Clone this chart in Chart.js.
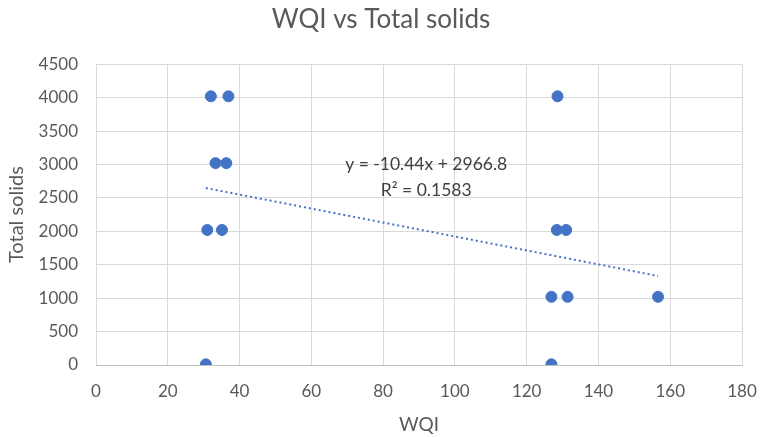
<!DOCTYPE html>
<html>
<head>
<meta charset="utf-8">
<script src="https://cdn.jsdelivr.net/npm/chart.js@4"></script>
<style>
  html, body { margin: 0; padding: 0; background: #fff; }
  #wrap { width: 762px; height: 437px; }
</style>
</head>
<body>
<div id="wrap"><canvas id="chart" width="762" height="437"></canvas></div>
<script>
// WQI (x) and total solids (y)
const wqi = [32.0, 36.9, 33.3, 36.3, 31.0, 35.1, 30.6, 128.6, 128.4, 131.0, 126.9, 131.4, 156.6, 126.9];
const totalSolids = [4020, 4020, 3020, 3020, 2020, 2020, 10, 4020, 2020, 2020, 1020, 1020, 1020, 10];

// linear trendline as printed on the chart
const slope = -10.44;
const intercept = 2966.8;
const equationText = 'y = -10.44x + 2966.8';
const r2Text = 'R² = 0.1583';

const xTicks = [0, 20, 40, 60, 80, 100, 120, 140, 160, 180];
const yTicks = [0, 500, 1000, 1500, 2000, 2500, 3000, 3500, 4000, 4500];

const blue = '#4472C4';
const gray = '#595959';
const fontFamily = 'Lato, "Open Sans", sans-serif';

const points = wqi.map((x, i) => ({x: x, y: totalSolids[i]}));
const minX = Math.min(...wqi);
const maxX = Math.max(...wqi);
const trend = [minX, maxX].map(x => ({x: x, y: slope * x + intercept}));

const equationLabel = {
    id: 'equationLabel',
    afterDatasetsDraw(chart) {
        const xs = chart.scales.x, ys = chart.scales.y;
        const ctx = chart.ctx;
        ctx.save();
        ctx.fillStyle = '#404040';
        ctx.font = '17.5px ' + fontFamily;
        ctx.textAlign = 'center';
        ctx.textBaseline = 'middle';
        ctx.fillText(equationText, xs.getPixelForValue(92), ys.getPixelForValue(3005));
        ctx.fillText(r2Text, xs.getPixelForValue(92), ys.getPixelForValue(2616));
        ctx.restore();
    }
};

const ctx = document.getElementById('chart').getContext('2d');
const chart = new Chart(ctx, {
    type: 'scatter',
    data: {
        datasets: [{
            label: 'Total solids',
            data: points,
            backgroundColor: blue,
            borderColor: blue,
            pointRadius: 5.5,
            pointHoverRadius: 5.5
        }, {
            type: 'line',
            label: 'Linear (Total solids)',
            data: trend,
            borderColor: blue,
            borderWidth: 2,
            borderDash: [2, 3],
            pointRadius: 0,
            fill: false
        }]
    },
    options: {
        responsive: false,
        animation: false,
        layout: { padding: { left: 0, right: 0, top: 0, bottom: 0 } },
        plugins: {
            legend: { display: false },
            tooltip: { enabled: false },
            title: {
                display: true,
                text: 'WQI vs Total solids',
                color: gray,
                font: { family: fontFamily, size: 26, weight: 'normal' },
                padding: { top: 4, bottom: 29 }
            }
        },
        scales: {
            x: {
                type: 'linear',
                min: 0,
                max: 180,
                afterBuildTicks: s => { s.ticks = xTicks.map(v => ({value: v})); },
                afterFit: s => { s.height = 72; s.paddingLeft = 0; s.paddingRight = 20; },
                grid: { color: '#d9d9d9', drawTicks: false },
                border: { color: '#bfbfbf' },
                ticks: { color: gray, padding: 16, maxRotation: 0, font: { family: fontFamily, size: 17 }, callback: v => String(v) },
                title: {
                    display: true,
                    text: 'WQI',
                    color: gray,
                    font: { family: fontFamily, size: 19 },
                    padding: { top: 0, bottom: 1 }
                }
            },
            y: {
                type: 'linear',
                min: 0,
                max: 4500,
                afterBuildTicks: s => { s.ticks = yTicks.map(v => ({value: v})); },
                afterFit: s => { s.width = 96; },
                grid: { color: '#d9d9d9', drawTicks: false },
                border: { display: false },
                ticks: { color: gray, padding: 18, font: { family: fontFamily, size: 17 }, callback: v => String(v) },
                title: {
                    display: true,
                    text: 'Total solids',
                    color: gray,
                    font: { family: fontFamily, size: 20 },
                    padding: { top: 5, bottom: 0 }
                }
            }
        }
    },
    plugins: [equationLabel]
});
</script>
</body>
</html>
